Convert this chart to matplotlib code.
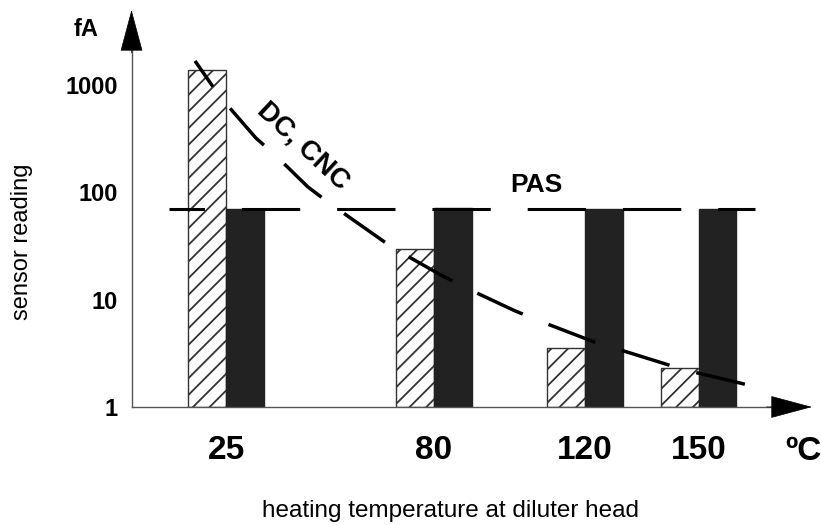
import numpy as np
import matplotlib.pyplot as plt
from matplotlib.patches import FancyArrowPatch

# heating temperatures (degC) and readings (fA)
temps = [25, 80, 120, 150]
temp_labels = ['25', '80', '120', '150']
dc_cnc = [1380, 29.5, 3.55, 2.3]
pas = [70, 71, 70, 70]

# dashed DC, CNC trend line
curve_t = [16.8, 21.6, 25.3, 32.9, 38.0, 46.7, 52.2, 69.2, 81.3, 88.0,
           101.5, 108.6, 123.1, 131.0, 146.4, 154.4, 166.5]
curve_v = [1678, 960, 653, 321, 223, 112, 80, 30.3, 17.4, 13.1,
           7.85, 6.2, 3.95, 3.26, 2.21, 1.90, 1.50]

# dashed PAS level
pas_t = [10, 165]
pas_v = [70, 70]

y_ticks = [1, 10, 100, 1000]
y_labels = ['1', '10', '100', '1000']

plt.rcParams['font.family'] = ['Liberation Sans', 'DejaVu Sans']
plt.rcParams['hatch.linewidth'] = 1.3
plt.rcParams['lines.scale_dashes'] = False

fig = plt.figure(figsize=(8.21, 5.25), dpi=100)
ax = fig.add_axes([0.1602, 0.2248, 0.8288, 0.7562])
ax.set_yscale('log')
ax.set_xlim(0, 180)
ax.set_ylim(1, 10 ** 3.7)

w = 10
t = np.array(temps, dtype=float)
ax.bar(t - w / 2, np.array(dc_cnc) - 1, width=w, bottom=1, color='white',
       edgecolor='#333333', hatch='//', linewidth=1, zorder=2)
ax.bar(t + w / 2, np.array(pas) - 1, width=w, bottom=1, color='#222222',
       edgecolor='#222222', linewidth=1, zorder=2)

# dashed lines
ax.plot(pas_t, pas_v, color='black', lw=2.2, linestyle=(16.5, (42, 26.6)),
        dash_capstyle='butt', zorder=3)
ax.plot(curve_t, curve_v, color='black', lw=2.5, linestyle=(13.5, (36, 20)),
        dash_capstyle='butt', zorder=3)

# axes with arrow heads
for s in ax.spines.values():
    s.set_visible(False)
ax.plot([0, 171], [1, 1], color='#555555', lw=1, clip_on=False, zorder=4)
ax.plot([0, 0], [1, 10 ** 3.34], color='#555555', lw=1, clip_on=False, zorder=4)
for a, b in [((168, 1), (180, 1)), ((0, 10 ** 3.3), (0, 10 ** 3.7))]:
    ax.add_patch(FancyArrowPatch(a, b, arrowstyle='-|>,head_length=28,head_width=7.5',
                                 mutation_scale=1, lw=0.5, color='black',
                                 shrinkA=0, shrinkB=0, clip_on=False, zorder=5))

ax.set_xticks(temps, temp_labels, fontsize=24, fontweight='bold')
ax.set_yticks(y_ticks, y_labels, fontsize=17, fontweight='bold')
ax.minorticks_off()
ax.tick_params(axis='x', length=0, pad=20)
ax.tick_params(axis='y', length=0, pad=10)

ax.text(107, 117, 'PAS', fontsize=19, fontweight='bold', ha='center', va='center')
ax.text(45.5, 270, 'DC, CNC', fontsize=20, fontweight='bold', ha='center', va='center',
        rotation=-43, rotation_mode='anchor')

fig.text(86 / 821, 1 - 29 / 525, 'fA', fontsize=17, fontweight='bold', ha='center', va='center')
fig.text(803 / 821, 1 - 451 / 525, 'ºC', fontsize=24, fontweight='bold', ha='center', va='center')
fig.text(22 / 821, 1 - 242 / 525, 'sensor reading', fontsize=17, rotation=90,
         ha='center', va='center')
fig.text(450 / 821, 1 - 517 / 525, 'heating temperature at diluter head', fontsize=17.5,
         ha='center', va='baseline')

fig.savefig('out.png', dpi=100)
